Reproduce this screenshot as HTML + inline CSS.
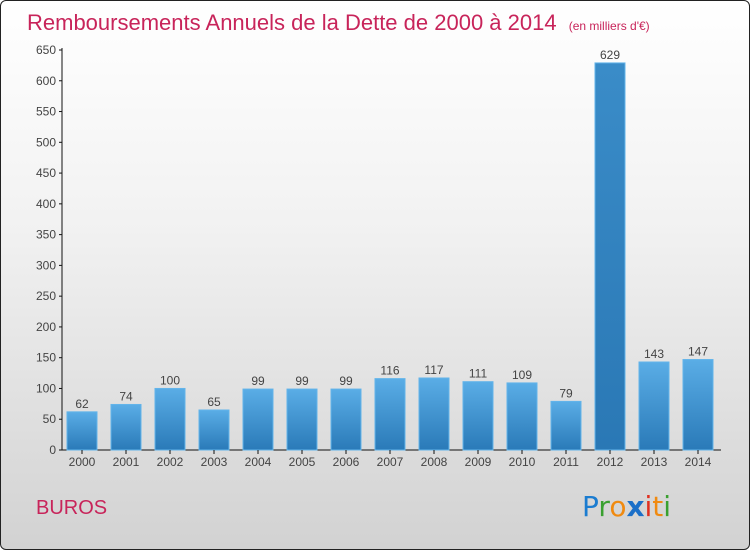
<!DOCTYPE html>
<html><head><meta charset="utf-8"><style>
body{margin:0;width:750px;height:550px;overflow:hidden;font-family:"Liberation Sans",sans-serif}
#frame{position:absolute;left:0;top:0;width:748px;height:548px;border:1px solid #222;border-radius:6px;background:linear-gradient(#ffffff,#f2f2f2 40%,#d2d2d2)}
</style></head><body>
<div id="frame"></div>
<svg width="750" height="550" style="position:absolute;left:0;top:0" id="svg">
<defs><linearGradient id="bg" x1="0" y1="0" x2="0" y2="1"><stop offset="0" stop-color="#5aade6"/><stop offset="1" stop-color="#2a7ab8"/></linearGradient>
<linearGradient id="bg2" x1="0" y1="0" x2="0" y2="1"><stop offset="0" stop-color="#3a8cc8"/><stop offset="1" stop-color="#2a78b5"/></linearGradient></defs>
<text x="27" y="30" font-size="22" fill="#c8245a">Remboursements Annuels de la Dette de 2000 à 2014 <tspan font-size="12" dx="6">(en milliers d'€)</tspan></text>
<text x="36" y="514" font-size="20" fill="#c8245a">BUROS</text>
<g font-size="28" font-family="'DejaVu Sans',sans-serif">
<text x="582" y="516"><tspan fill="#1b7cd0">P</tspan><tspan fill="#3aa030">r</tspan><tspan fill="#f08a10">o</tspan><tspan fill="#1b6fc8" font-weight="bold">x</tspan><tspan fill="#e03020">i</tspan><tspan fill="#f08a10">t</tspan><tspan fill="#3aa030">i</tspan></text></g>
<g id="g"></g>
</svg>
<script>
const years=["2000","2001","2002","2003","2004","2005","2006","2007","2008","2009","2010","2011","2012","2013","2014"];
const values=[62,74,100,65,99,99,99,116,117,111,109,79,629,143,147];
const yTicks=[0,50,100,150,200,250,300,350,400,450,500,550,600,650];
const g=document.getElementById('g'),NS='http://www.w3.org/2000/svg';
const y=v=>450-v*400/650, x=i=>82+i*44;
function el(t,a){const e=document.createElementNS(NS,t);for(const k in a)e.setAttribute(k,a[k]);g.appendChild(e);return e;}
let ax=el('line',{x1:62,y1:48,x2:62,y2:450,stroke:'#111','stroke-width':1});


let bx=el('line',{x1:62,y1:450,x2:721,y2:450,stroke:'#111','stroke-width':1});


yTicks.forEach(v=>{
 el('line',{x1:59,y1:y(v),x2:62,y2:y(v),stroke:'#111'});
 const t=el('text',{x:56,y:y(v)+4,'text-anchor':'end','font-size':12,fill:'#444'});t.textContent=v;
 
 
});
values.forEach((v,i)=>{
 const r=el('rect',{x:x(i)-15,y:y(v),width:30,height:450-y(v),fill:i==12?'url(#bg2)':'url(#bg)',stroke:'#62b4ea','stroke-width':1});
 
 
 const t=el('text',{x:x(i),y:y(v)-4,'text-anchor':'middle','font-size':12,fill:'#444'});t.textContent=v;
 
 
 el('line',{x1:x(i),y1:450,x2:x(i),y2:454,stroke:'#111'});
 const l=el('text',{x:x(i),y:466,'text-anchor':'middle','font-size':12,fill:'#444'});l.textContent=years[i];
 
 
});
</script>
</body></html>
